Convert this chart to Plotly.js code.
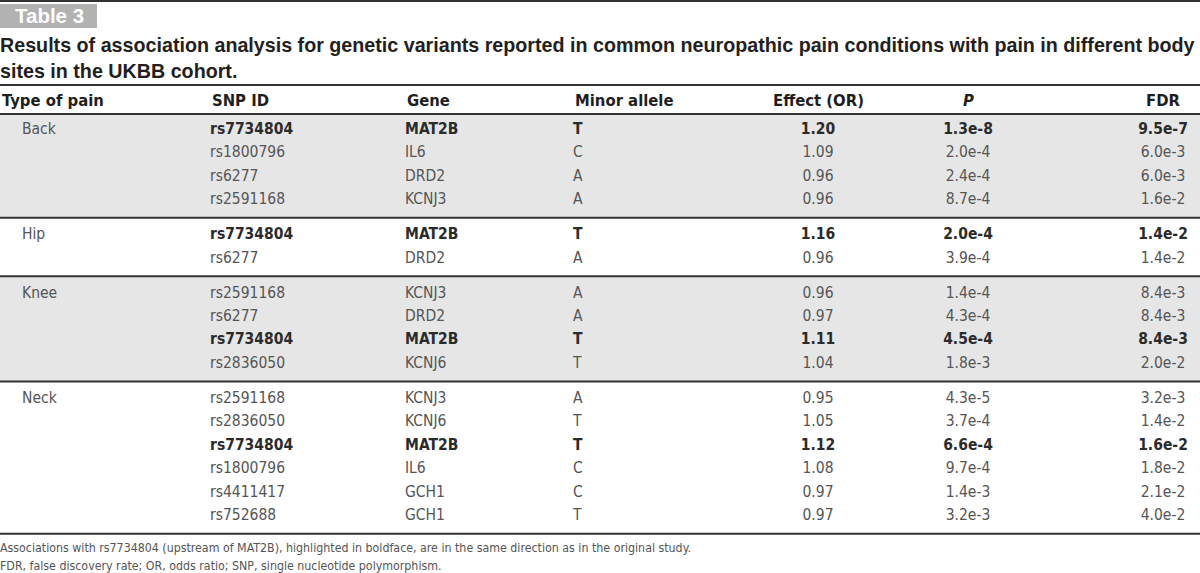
<!DOCTYPE html>
<html>
<head>
<meta charset="utf-8">
<script src="https://cdn.plot.ly/plotly-3.0.1.min.js"></script>
<style>html,body{margin:0;padding:0;background:#fff;}#chart{width:1200px;height:573px;}</style>
</head>
<body>
<div id="chart"></div>
<script>
// ---- data ----
const groups = ['Back', 'Hip', 'Knee', 'Neck'];
const groupSizes = [4, 2, 4, 6];
const snpIds = ['rs7734804','rs1800796','rs6277','rs2591168',
                'rs7734804','rs6277',
                'rs2591168','rs6277','rs7734804','rs2836050',
                'rs2591168','rs2836050','rs7734804','rs1800796','rs4411417','rs752688'];
const genes = ['MAT2B','IL6','DRD2','KCNJ3',
               'MAT2B','DRD2',
               'KCNJ3','DRD2','MAT2B','KCNJ6',
               'KCNJ3','KCNJ6','MAT2B','IL6','GCH1','GCH1'];
const minorAlleles = ['T','C','A','A',
                      'T','A',
                      'A','A','T','T',
                      'A','T','T','C','C','T'];
const effectOR = ['1.20','1.09','0.96','0.96',
                  '1.16','0.96',
                  '0.96','0.97','1.11','1.04',
                  '0.95','1.05','1.12','1.08','0.97','0.97'];
const pValues = ['1.3e-8','2.0e-4','2.4e-4','8.7e-4',
                 '2.0e-4','3.9e-4',
                 '1.4e-4','4.3e-4','4.5e-4','1.8e-3',
                 '4.3e-5','3.7e-4','6.6e-4','9.7e-4','1.4e-3','3.2e-3'];
const fdrValues = ['9.5e-7','6.0e-3','6.0e-3','1.6e-2',
                   '1.4e-2','1.4e-2',
                   '8.4e-3','8.4e-3','8.4e-3','2.0e-2',
                   '3.2e-3','1.4e-2','1.6e-2','1.8e-2','2.1e-2','4.0e-2'];
// rows highlighted in boldface (rs7734804)
const boldRow = [1,0,0,0, 1,0, 0,0,1,0, 0,0,1,0,0,0];
const headers = ['Type of pain','SNP ID','Gene','Minor allele','Effect (OR)','<i>P</i>','FDR'];
const tableLabel = 'Table 3';
const titleText = 'Results of association analysis for genetic variants reported in common neuropathic pain conditions with pain in different body<br>sites in the UKBB cohort.';
const footnotes = ['Associations with rs7734804 (upstream of MAT2B), highlighted in boldface, are in the same direction as in the original study.',
                   'FDR, false discovery rate; OR, odds ratio; SNP, single nucleotide polymorphism.'];

// ---- layout constants ----
const W = 1200, H = 573;
const GAP = 0.5;          // extra row units between groups
const narrow = '"Liberation Sans Narrow", "Arial Narrow", "DejaVu Sans Condensed", sans-serif';
const sans = '"Liberation Sans", Arial, Helvetica, sans-serif';
const colX = {type: 22, snp: 210, gene: 405, allele: 573, effect: 818, p: 968, fdr: 1163};
const normalColor = '#555555', boldColor = '#2b2b2b', ruleColor = '#333333', bandColor = '#e6e6e6';
const dataSize = 15.5;

// row positions (row units)
const rowPos = [], groupOfRow = [], typeText = [];
let k = 0;
groups.forEach((g, gi) => {
  for (let i = 0; i < groupSizes[gi]; i++) {
    rowPos.push(k + gi * GAP);
    groupOfRow.push(gi);
    typeText.push(i === 0 ? g : '');
    k++;
  }
});
// y axis: row unit mapping
const firstRowPx = 130, rowPx = 23.4;
const yTop = -firstRowPx / rowPx, yBot = (H - firstRowPx) / rowPx;

function fmt(arr) { return arr.map((t, i) => boldRow[i] ? '<b>' + t + '</b>' : t); }
const colors = boldRow.map(b => b ? boldColor : normalColor);

function textTrace(xv, texts, pos, col) {
  return {
    type: 'scatter', mode: 'text',
    x: rowPos.map(() => xv), y: rowPos,
    text: texts, textposition: pos,
    textfont: {family: narrow, size: dataSize, color: col || colors},
    hoverinfo: 'skip', showlegend: false, cliponaxis: false
  };
}

const traces = [
  textTrace(colX.type, typeText, 'middle right', normalColor),
  textTrace(colX.snp, fmt(snpIds), 'middle right'),
  textTrace(colX.gene, fmt(genes), 'middle right'),
  textTrace(colX.allele, fmt(minorAlleles), 'middle right'),
  textTrace(colX.effect, fmt(effectOR), 'middle center'),
  textTrace(colX.p, fmt(pValues), 'middle center'),
  textTrace(colX.fdr, fmt(fdrValues), 'middle center')
];

// group bounds
const shapes = [];
const groupEnd = [];
groups.forEach((g, gi) => {
  const rows = rowPos.filter((p, i) => groupOfRow[i] === gi);
  groupEnd.push(Math.max(...rows));
});
const headerLine = -0.68;
groups.forEach((g, gi) => {
  const top = gi === 0 ? headerLine : groupEnd[gi - 1] + 0.5 + GAP / 2;
  const bot = groupEnd[gi] + 0.5 + GAP / 2;
  if (gi % 2 === 0) {
    shapes.push({type: 'rect', xref: 'x', yref: 'y', x0: 0, x1: W, y0: top, y1: bot,
                 fillcolor: bandColor, line: {width: 0}, layer: 'below'});
  }
  shapes.push({type: 'line', xref: 'x', yref: 'y', x0: 0, x1: W, y0: bot, y1: bot,
               line: {color: ruleColor, width: 2}});
});
shapes.push({type: 'line', xref: 'x', yref: 'y', x0: 0, x1: W, y0: headerLine, y1: headerLine,
             line: {color: ruleColor, width: 2}});
const titleLine = (85 - firstRowPx) / rowPx;
shapes.push({type: 'line', xref: 'x', yref: 'y', x0: 0, x1: W, y0: titleLine, y1: titleLine,
             line: {color: ruleColor, width: 2}});
// top rule and table label box
shapes.push({type: 'line', xref: 'x', yref: 'paper', x0: 0, x1: W, y0: 1 - 1 / H, y1: 1 - 1 / H,
             line: {color: ruleColor, width: 2}});
shapes.push({type: 'rect', xref: 'x', yref: 'paper', x0: 0, x1: 97, y0: 1 - 28 / H, y1: 1 - 4 / H,
             fillcolor: '#b2b2b2', line: {width: 0}});

const headerY = (100 - firstRowPx) / rowPx;
const headerX = [0, colX.snp, colX.gene, colX.allele, colX.effect, colX.p, colX.fdr];
const headerAnchor = ['left','left','left','left','center','center','center'];
const annotations = headers.map((h, i) => ({
  xref: 'x', yref: 'y', x: headerX[i], y: headerY, text: '<b>' + h + '</b>',
  xanchor: headerAnchor[i], yanchor: 'middle', showarrow: false,
  font: {family: narrow, size: 16.5, color: '#1f1f1f'}
}));
annotations.push({xref: 'paper', yref: 'paper', x: 49 / W, y: 1 - 16 / H, text: '<b>' + tableLabel + '</b>',
  xanchor: 'center', yanchor: 'middle', showarrow: false,
  font: {family: sans, size: 20.5, color: '#ffffff'}});
annotations.push({xref: 'paper', yref: 'paper', x: -2 / W, y: 1 - 57.5 / H, text: '<b>' + titleText + '</b>',
  xanchor: 'left', yanchor: 'middle', align: 'left', showarrow: false,
  font: {family: sans, size: 19.7, color: '#231f20'}});
footnotes.forEach((f, i) => {
  annotations.push({xref: 'paper', yref: 'paper', x: -2 / W, y: 1 - (548 + i * 18) / H, text: f,
    xanchor: 'left', yanchor: 'middle', showarrow: false,
    font: {family: narrow, size: 12.3, color: '#555555'}});
});

const layout = {
  width: W, height: H,
  margin: {l: 0, r: 0, t: 0, b: 0, pad: 0},
  paper_bgcolor: '#ffffff', plot_bgcolor: '#ffffff',
  xaxis: {range: [0, W], visible: false, fixedrange: true},
  yaxis: {range: [yBot, yTop], visible: false, fixedrange: true},
  shapes: shapes, annotations: annotations, showlegend: false
};
Plotly.newPlot('chart', traces, layout, {displayModeBar: false, staticPlot: true});
</script>
</body>
</html>
